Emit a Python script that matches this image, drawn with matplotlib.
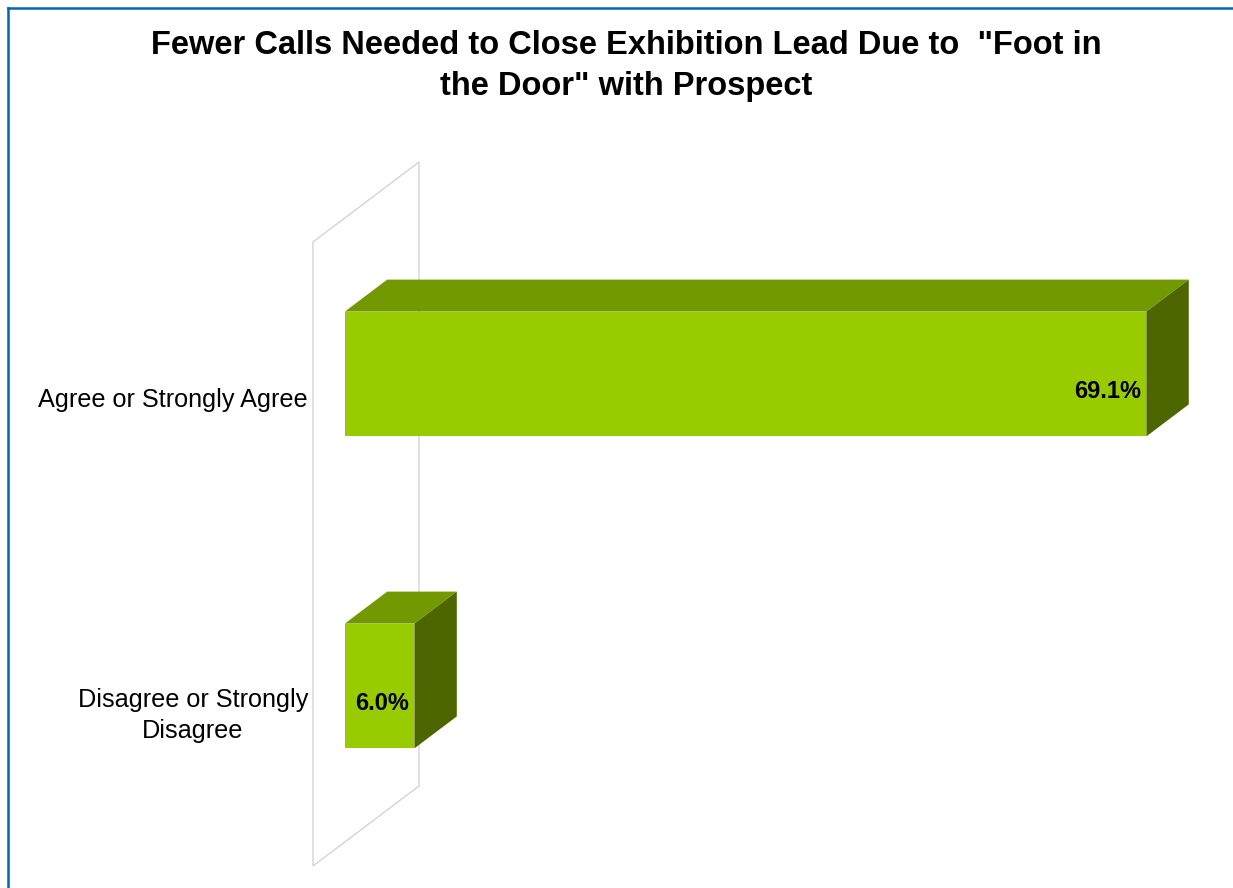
import matplotlib
matplotlib.use('Agg')
import matplotlib.pyplot as plt
from matplotlib.patches import Polygon
from matplotlib.lines import Line2D

# data
categories = ['Agree or Strongly Agree', 'Disagree or Strongly\nDisagree']
values = [69.1, 6.0]
value_labels = ['69.1%', '6.0%']
title = 'Fewer Calls Needed to Close Exhibition Lead Due to  "Foot in\nthe Door" with Prospect'

W, H = 1233, 888
plt.rcParams['font.family'] = ['Liberation Sans', 'DejaVu Sans']
fig = plt.figure(figsize=(W / 100, H / 100), dpi=100)
fig.patch.set_facecolor('white')

# axes = front plane of the 3d chart
px_per_pct = 11.6
ax_l, ax_top, ax_bot = 313, 242, 866
ax = fig.add_axes([ax_l / W, (H - ax_bot) / H, (W - ax_l) / W, (ax_bot - ax_top) / H])
ax.set_xlim(0, (W - ax_l) / px_per_pct)
ax.set_ylim(len(categories) - 0.5, -0.5)
px_per_cat = (ax_bot - ax_top) / len(categories)

# depth of the wall (in data units)
dxw = 106 / px_per_pct
dyw = -80 / px_per_cat

wall = Polygon([(0, -0.5), (dxw, -0.5 + dyw), (dxw, len(categories) - 0.5 + dyw),
                (0, len(categories) - 0.5)], closed=True, fill=False,
               edgecolor='#d4d4d4', lw=1, clip_on=False, zorder=1)
ax.add_patch(wall)

front_c, top_c, side_c = '#99cc00', '#739900', '#4d6600'
f0, f1 = 0.3, 0.7
half_h = 0.2
for i, v in enumerate(values):
    x0 = f0 * dxw
    x1 = x0 + v
    yt = i - half_h + f0 * dyw
    yb = i + half_h + f0 * dyw
    ddx = (f1 - f0) * dxw
    ddy = (f1 - f0) * dyw
    ax.add_patch(Polygon([(x0, yt), (x1, yt), (x1, yb), (x0, yb)],
                         facecolor=front_c, edgecolor='none', clip_on=False, zorder=3))
    ax.add_patch(Polygon([(x0, yt), (x1, yt), (x1 + ddx, yt + ddy), (x0 + ddx, yt + ddy)],
                         facecolor=top_c, edgecolor='none', clip_on=False, zorder=3))
    ax.add_patch(Polygon([(x1, yt), (x1, yb), (x1 + ddx, yb + ddy), (x1 + ddx, yt + ddy)],
                         facecolor=side_c, edgecolor='none', clip_on=False, zorder=3))
    ax.annotate(value_labels[i], xy=(x1, i), xytext=(-5, 6), textcoords='offset pixels',
                ha='right', va='center', fontsize=17, fontweight='bold',
                family=['Liberation Sans Narrow', 'Liberation Sans', 'DejaVu Sans'],
                zorder=5)

ax.set_yticks(range(len(categories)))
ax.set_yticklabels(categories, fontsize=18.2, multialignment='center', linespacing=1.35)
ax.tick_params(axis='y', length=0, pad=3.6)
ax.set_xticks([])
for s in ax.spines.values():
    s.set_visible(False)
ax.patch.set_visible(False)

fig.text(626 / W, 1 - 66 / H, title, ha='center', va='center', fontsize=23.5,
         fontweight='bold', linespacing=1.38)

# blue frame (left and top edges)
fig.add_artist(Line2D([8 / W, 8 / W], [0, 1 - 8 / H], color='#0066b3', lw=1.8))
fig.add_artist(Line2D([8 / W, 1], [1 - 8 / H, 1 - 8 / H], color='#0066b3', lw=1.8))

fig.savefig('out.png', dpi=100, facecolor='white')
